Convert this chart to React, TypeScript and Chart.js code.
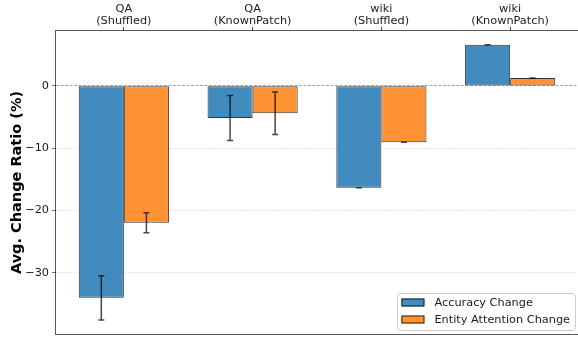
import React, { useEffect, useRef } from "react";
import { Chart, registerables } from "chart.js";

Chart.register(...registerables);

// ---- data ----
const categories: string[][] = [
  ["QA", "(Shuffled)"],
  ["QA", "(KnownPatch)"],
  ["wiki", "(Shuffled)"],
  ["wiki", "(KnownPatch)"],
];
const seriesNames = ["Accuracy Change", "Entity Attention Change"];
const accuracyChange = [-34.0, -5.15, -16.35, 6.6];
const accuracyErr = [3.55, 3.6, 0, 0];
const attentionChange = [-21.95, -4.4, -9.05, 1.25];
const attentionErr = [1.6, 3.4, 0, 0];
const yTicks = [-30, -20, -10, 0];
const yMin = -39.8;
const yMax = 8.8;
const xMin = -0.527;
const xMax = 3.527;
const yTitle = "Avg. Change Ratio (%)";

// ---- style ----
const FONT = "'DejaVu Sans', sans-serif";
const BLUE = "rgb(65,139,191)";
const ORANGE = "rgb(255,146,50)";
const EDGE = "rgba(0,0,0,0.8)";

const toPoints = (vals: number[]) => vals.map((v, i) => ({ x: i, y: v }));

const errorBarPlugin = {
  id: "errorBars",
  afterDatasetsDraw(chart: any) {
    const { ctx } = chart;
    const y = chart.scales.y;
    chart.data.datasets.forEach((ds: any, di: number) => {
      const meta = chart.getDatasetMeta(di);
      meta.data.forEach((bar: any, i: number) => {
        const v = ds.data[i].y;
        const e = ds.errors[i];
        const x = bar.x;
        const yt = y.getPixelForValue(v + e);
        const yb = y.getPixelForValue(v - e);
        ctx.save();
        ctx.strokeStyle = "rgba(0,0,0,0.72)";
        ctx.lineWidth = 1.5;
        ctx.beginPath();
        ctx.moveTo(x, yt);
        ctx.lineTo(x, yb);
        ctx.moveTo(x - 3, yt);
        ctx.lineTo(x + 3, yt);
        ctx.moveTo(x - 3, yb);
        ctx.lineTo(x + 3, yb);
        ctx.stroke();
        ctx.restore();
      });
    });
  },
};

const framePlugin = {
  id: "frame",
  afterDraw(chart: any) {
    const { ctx, chartArea: a } = chart;
    ctx.save();
    ctx.strokeStyle = "rgba(0,0,0,0.65)";
    ctx.lineWidth = 1;
    ctx.strokeRect(Math.round(a.left) - 0.5, Math.round(a.top) - 0.5, a.right - a.left + 1, a.bottom - a.top + 1);

    // y-axis title
    ctx.fillStyle = "#000";
    ctx.font = `bold 14.5px ${FONT}`;
    ctx.textAlign = "center";
    ctx.textBaseline = "middle";
    ctx.translate(17, (a.top + a.bottom) / 2);
    ctx.rotate(-Math.PI / 2);
    ctx.fillText(yTitle, 0, 0);
    ctx.restore();

    // legend (bottom-right, inside axes)
    ctx.save();
    ctx.font = `11.3px ${FONT}`;
    const swW = 23, swH = 8, padL = 4.5, gap = 10, padR = 5, rowH = 17;
    const textW = Math.max(...chart.data.datasets.map((d: any) => ctx.measureText(d.label).width));
    const boxW = padL + swW + gap + textW + padR;
    const boxH = 37;
    const bx = a.right - 3 - boxW;
    const by = a.bottom - 4 - boxH;
    ctx.beginPath();
    ctx.roundRect(bx + 0.5, by + 0.5, boxW, boxH, 3);
    ctx.fillStyle = "rgba(255,255,255,0.85)";
    ctx.fill();
    ctx.strokeStyle = "rgba(204,204,204,1)";
    ctx.lineWidth = 1;
    ctx.stroke();
    chart.data.datasets.forEach((d: any, i: number) => {
      const cy = by + 9.5 + i * rowH;
      ctx.fillStyle = d.backgroundColor;
      ctx.fillRect(bx + padL, cy - swH / 2, swW, swH);
      ctx.strokeStyle = EDGE;
      ctx.strokeRect(bx + padL + 0.5, cy - swH / 2 + 0.5, swW - 1, swH - 1);
      ctx.fillStyle = "#1a1a1a";
      ctx.textAlign = "left";
      ctx.textBaseline = "middle";
      ctx.fillText(d.label, bx + padL + swW + gap, cy + 0.5);
    });
    ctx.restore();
  },
};

export default function App() {
  const ref = useRef<HTMLCanvasElement | null>(null);

  useEffect(() => {
    document.body.style.margin = "0";
    const canvas = ref.current;
    if (!canvas) return;
    const chart = new Chart(canvas, {
      type: "bar",
      data: {
        datasets: [
          {
            label: seriesNames[0],
            data: toPoints(accuracyChange),
            errors: accuracyErr,
            backgroundColor: BLUE,
            borderColor: EDGE,
            borderWidth: 1,
            borderSkipped: false,
            categoryPercentage: 0.7,
            barPercentage: 1,
          } as any,
          {
            label: seriesNames[1],
            data: toPoints(attentionChange),
            errors: attentionErr,
            backgroundColor: ORANGE,
            borderColor: EDGE,
            borderWidth: 1,
            borderSkipped: false,
            categoryPercentage: 0.7,
            barPercentage: 1,
          } as any,
        ],
      },
      options: {
        animation: false,
        responsive: false,
        devicePixelRatio: 1,
        layout: { padding: { left: 0, right: -1, top: 0, bottom: 4 } },
        plugins: {
          legend: { display: false },
          tooltip: { enabled: false },
        },
        scales: {
          x: {
            type: "linear",
            position: "top",
            min: xMin,
            max: xMax,
            offset: false,
            afterBuildTicks: (s: any) => {
              s.ticks = categories.map((_, i) => ({ value: i }));
            },
            grid: {
              offset: false,
              drawOnChartArea: false,
              drawTicks: true,
              tickLength: 4,
              tickColor: "rgba(0,0,0,0.7)",
            },
            border: { display: false },
            ticks: {
              color: "#1a1a1a",
              padding: 0,
              maxRotation: 0,
              autoSkip: false,
              font: { family: FONT, size: 11.3, lineHeight: 1.05 },
              callback: (v: any) => categories[Math.round(v)] ?? "",
            },
            afterFit: (s: any) => {
              s.height = 31;
              s.paddingLeft = 0;
              s.paddingRight = 0;
            },
          },
          y: {
            min: yMin,
            max: yMax,
            afterBuildTicks: (s: any) => {
              s.ticks = yTicks.map((v) => ({ value: v }));
            },
            grid: {
              color: (c: any) => (c.tick && c.tick.value === 0 ? "rgba(128,128,128,0.9)" : "rgba(176,176,176,0.4)"),
              lineWidth: 0.8,
              tickColor: "rgba(0,0,0,0.7)",
              tickLength: 4,
            },
            border: { display: false, dash: [3, 1.5] },
            ticks: {
              color: "#1a1a1a",
              padding: 3,
              font: { family: FONT, size: 11.3 },
              callback: (v: any) => String(v).replace("-", "\u2212"),
            },
            afterFit: (s: any) => {
              s.width = 56;
              s.paddingTop = 0;
              s.paddingBottom = 0;
            },
          },
        },
      } as any,
      plugins: [errorBarPlugin, framePlugin],
    });
    return () => chart.destroy();
  }, []);

  return <canvas ref={ref} width={578} height={338} style={{ display: "block" }} />;
}
